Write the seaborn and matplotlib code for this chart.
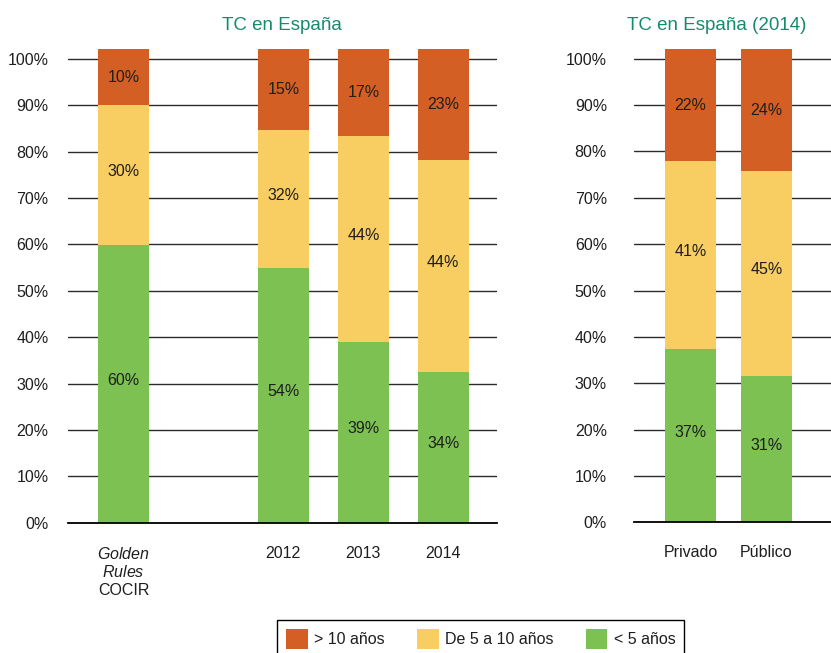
import numpy as np
import pandas as pd
import matplotlib
matplotlib.use("Agg")
import matplotlib.pyplot as plt
import seaborn as sns
from matplotlib.patches import Patch

## datos ---------------------------------------------------------------------
# panel izquierdo: TC en España
cats_left  = ["Golden Rules COCIR", "2012", "2013", "2014"]
order_left = ["Golden Rules COCIR", "", "2012", "2013", "2014"]
green_left  = [0.598, 0.548, 0.389, 0.325]
yellow_left = [0.302, 0.298, 0.444, 0.456]
lbl_green_left  = ["60%", "54%", "39%", "34%"]
lbl_yellow_left = ["30%", "32%", "44%", "44%"]
lbl_orange_left = ["10%", "15%", "17%", "23%"]

# panel derecho: TC en España (2014)
cats_right = ["Privado", "Público"]
green_right  = [0.373, 0.316]
yellow_right = [0.407, 0.441]
lbl_green_right  = ["37%", "31%"]
lbl_yellow_right = ["41%", "45%"]
lbl_orange_right = ["22%", "24%"]

series_names = ["> 10 años", "De 5 a 10 años", "< 5 años"]
ytick_vals = [0.0, 0.1, 0.2, 0.3, 0.4, 0.5, 0.6, 0.7, 0.8, 0.9, 1.0]
ytick_lbls = ["0%", "10%", "20%", "30%", "40%", "50%", "60%", "70%", "80%", "90%", "100%"]

## estilo --------------------------------------------------------------------
C_ORANGE = "#D45F24"
C_YELLOW = "#F8CD62"
C_GREEN  = "#7DC153"
C_TITLE  = "#178A6C"
C_TEXT   = "#1E1E1E"
YTOP = 1.021   # las columnas llegan hasta el borde superior

sns.set_theme(style="white")
plt.rcParams["font.family"] = ["Liberation Sans", "DejaVu Sans"]
plt.rcParams["mathtext.fontset"] = "custom"
plt.rcParams["mathtext.rm"] = "Liberation Sans"
plt.rcParams["mathtext.it"] = "Liberation Sans:italic"
FS = 11.5


## funciones -----------------------------------------------------------------
def draw_panel(ax, cats, order, green, yellow, lbl_g, lbl_y, lbl_o, width):
    df = pd.DataFrame({"cat": cats, "green": green, "yellow": yellow})
    df["cum"] = df["green"] + df["yellow"]
    df["full"] = YTOP
    kw = dict(data=df, x="cat", order=order, width=width, ax=ax,
              saturation=1, errorbar=None, linewidth=0)
    # capas superpuestas: fondo naranja, acumulado amarillo, verde
    sns.barplot(y="full", color=C_ORANGE, **kw)
    sns.barplot(y="cum", color=C_YELLOW, **kw)
    sns.barplot(y="green", color=C_GREEN, **kw)

    for i, row in df.iterrows():
        x = order.index(row["cat"])
        ax.text(x, row["green"] / 2 + 0.008, lbl_g[i], ha="center", va="center",
                fontsize=FS, color=C_TEXT)
        ax.text(x, row["green"] + row["yellow"] / 2 + 0.008, lbl_y[i], ha="center",
                va="center", fontsize=FS, color=C_TEXT)
        ax.text(x, (row["cum"] + 1.0) / 2 + 0.01, lbl_o[i], ha="center",
                va="center", fontsize=FS, color=C_TEXT)

    ax.set_ylim(0, YTOP)
    ax.set_yticks(ytick_vals)
    ax.set_yticklabels(ytick_lbls)
    ax.yaxis.grid(True, color="#2a2a2a", linewidth=1.0)
    ax.xaxis.grid(False)
    ax.set_axisbelow(True)
    sns.despine(ax=ax, left=True)
    ax.spines["bottom"].set_color("black")
    ax.spines["bottom"].set_linewidth(1.3)
    ax.set_xlabel("")
    ax.set_ylabel("")
    for t in ax.get_yticklabels() + ax.get_xticklabels():
        t.set_fontsize(FS)
        t.set_color(C_TEXT)


## figura --------------------------------------------------------------------
fig = plt.figure(figsize=(8.31, 6.53), dpi=100)
ax1 = fig.add_axes([0.0818, 0.1995, 0.516, 0.7254])
ax2 = fig.add_axes([0.763, 0.2001, 0.237, 0.7248])

draw_panel(ax1, cats_left, order_left, green_left, yellow_left,
           lbl_green_left, lbl_yellow_left, lbl_orange_left, 0.64)
draw_panel(ax2, cats_right, cats_right, green_right, yellow_right,
           lbl_green_right, lbl_yellow_right, lbl_orange_right, 0.67)

ax1.set_xlim(-0.694, 4.669)
ax2.set_xlim(-0.743, 1.849)

ax1.set_xticks(range(len(order_left)))
ax1.set_xticklabels([r"$\mathit{Golden}$" + "\n" + r"$\mathit{Rules}$" + "\nCOCIR",
                     "", "2012", "2013", "2014"], fontsize=FS, color=C_TEXT)
for t in ax1.get_xticklabels():
    t.set_linespacing(1.2)
ax2.set_xticks(range(len(cats_right)))
ax2.set_xticklabels(cats_right, fontsize=FS, color=C_TEXT)

ax1.tick_params(axis="y", length=0, pad=14)
ax2.tick_params(axis="y", length=0, pad=19.5)
ax1.tick_params(axis="x", length=0, pad=16.5)
ax2.tick_params(axis="x", length=0, pad=16.5)

ax1.set_title("TC en España", color=C_TITLE, fontsize=13.5, pad=14)
ax2.set_title("TC en España (2014)", color=C_TITLE, fontsize=13.5, pad=14, x=0.421)

handles = [Patch(facecolor=c, edgecolor="none", label=n)
           for c, n in zip([C_ORANGE, C_YELLOW, C_GREEN], series_names)]
leg = fig.legend(handles=handles, loc="upper left",
                 bbox_to_anchor=(277 / 831, 1 - 620 / 653), ncol=3,
                 frameon=True, fancybox=False, edgecolor="black", framealpha=1,
                 fontsize=FS, handlelength=1.375, handleheight=1.6,
                 handletextpad=0.4, columnspacing=2.0, borderpad=0.55,
                 borderaxespad=0)
leg.get_frame().set_linewidth(1.0)
for t in leg.get_texts():
    t.set_color(C_TEXT)

fig.savefig("out.png", dpi=100)
